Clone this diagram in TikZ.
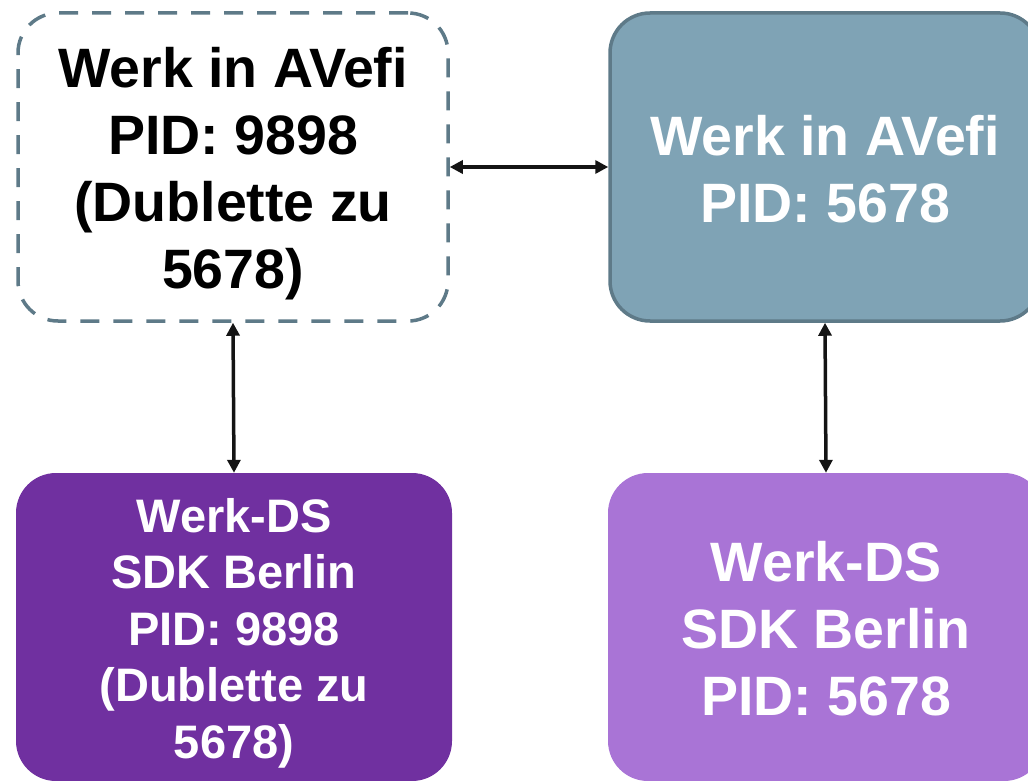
\documentclass[tikz,border=0pt]{standalone}
\usepackage{fontspec}
\setmainfont{Liberation Sans}
\usetikzlibrary{arrows.meta}
\definecolor{bordergrey}{HTML}{5E7A88}
\definecolor{bluegrey}{HTML}{7FA3B5}
\definecolor{darkpurple}{HTML}{7030A0}
\definecolor{lightpurple}{HTML}{A974D6}
\definecolor{arrowblack}{HTML}{141414}
\newcommand\toppad[1]{\rule{0pt}{#1}}
\tikzset{
  box/.style={rounded corners=40pt, minimum width=430pt, minimum height=308pt,
    inner sep=0pt, align=center, font=\fontsize{55.5}{67}\selectfont\bfseries},
  dashbox/.style={box, draw=bordergrey, line width=3.5pt, dash pattern=on 19pt off 14pt, fill=white, text=black},
  greybox/.style={box, draw=bordergrey, line width=3.5pt, fill=bluegrey, text=white},
  darkbox/.style={box, fill=darkpurple, text=white, minimum width=436pt, font=\fontsize{47}{56.5}\selectfont\bfseries},
  lightbox/.style={box, fill=lightpurple, text=white, minimum width=436pt},
  link/.style={draw=arrowblack, line width=3.5pt, {Triangle[length=13pt,width=13pt]}-{Triangle[length=13pt,width=13pt]}, shorten <=0pt, shorten >=0pt}
}
\begin{document}
\begin{tikzpicture}[x=1pt,y=-1pt]
\useasboundingbox (0,0) rectangle (1028,781);
\node[dashbox] (tl) at (233,167) {\toppad{54pt}Werk in AVefi\\PID: 9898\\(Dublette zu\\5678)};
\node[greybox] (tr) at (825,167) {\toppad{44pt}Werk in AVefi\\PID: 5678};
\node[darkbox] (bl) at (234,627) {\toppad{46pt}Werk-DS\\SDK Berlin\\PID: 9898\\(Dublette zu\\5678)};
\node[lightbox] (br) at (826,627) {\toppad{43pt}Werk-DS\\SDK Berlin\\PID: 5678};
\draw[link] (tl) -- (tr);
\draw[link] (tl.south) -- (bl.north);
\draw[link] (tr.south) -- (br.north);
\end{tikzpicture}
\end{document}
